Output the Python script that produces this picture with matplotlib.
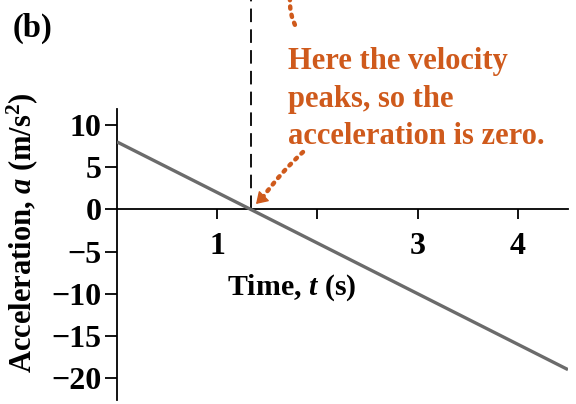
import matplotlib
matplotlib.use("Agg")
import matplotlib.pyplot as plt
import numpy as np
from matplotlib.patches import FancyArrowPatch

plt.rcParams["font.family"] = ["Liberation Serif", "DejaVu Serif"]
plt.rcParams["font.weight"] = "bold"
plt.rcParams["mathtext.fontset"] = "custom"
plt.rcParams["mathtext.rm"] = "Liberation Serif:bold"
plt.rcParams["mathtext.it"] = "Liberation Serif:italic:bold"
plt.rcParams["mathtext.bf"] = "Liberation Serif:bold"

# Acceleration a(t) = a0 + k t (linear)
a0 = 8.0          # m/s^2 at t = 0
k = -6.0          # m/s^3
t_end = 4.5
x_ticks = [1, 2, 3, 4]
x_tick_labels = ["1", "", "3", "4"]
y_ticks = [10, 5, 0, -5, -10, -15, -20]
y_tick_labels = ["10", "5", "0", "\u22125", "\u221210", "\u221215", "\u221220"]
note = "Here the velocity\npeaks, so the\nacceleration is zero."

W, H = 576, 404
fig = plt.figure(figsize=(W / 100, H / 100), dpi=100)

def fx(px):
    return px / W

def fy(py):
    return 1 - py / H

ax = fig.add_axes([fx(117), fy(400), fx(568) - fx(117), fy(109) - fy(400)])
ax.set_xlim(0, t_end)
ax.set_ylim(-22.6, 11.9)

t = np.array([0, t_end])
ax.plot(t, a0 + k * t, color="#6b6b6b", lw=2.4, solid_capstyle="butt", zorder=3)

# time when acceleration crosses zero
t0 = -a0 / k
ax.plot([t0, t0], [0, 25], color="black", lw=1.3, ls=(0, (7.5, 4)),
        clip_on=False, zorder=2)

for s in ["top", "right"]:
    ax.spines[s].set_visible(False)
ax.spines["bottom"].set_position(("data", 0))
ax.spines["left"].set_linewidth(1.3)
ax.spines["bottom"].set_linewidth(1.3)

ax.set_xticks(x_ticks)
ax.set_xticklabels(x_tick_labels)
ax.set_yticks(y_ticks)
ax.set_yticklabels(y_tick_labels)
ax.tick_params(axis="x", direction="out", length=7, width=1.3, pad=9,
               labelsize=23)
ax.tick_params(axis="y", direction="out", length=9, width=1.3, pad=2,
               labelsize=23)
for lab in ax.get_xticklabels() + ax.get_yticklabels():
    lab.set_fontweight("bold")

fig.text(fx(22), fy(233), r"Acceleration, $a$ (m/s$^{2}$)", rotation=90,
         ha="center", va="center", fontsize=22, fontweight="bold")
fig.text(fx(292), fy(288), r"Time, $t$ (s)", ha="center", va="center",
         fontsize=21.5, fontweight="bold")
fig.text(fx(13), fy(28), "(b)", ha="left", va="center", fontsize=23.5,
         fontweight="bold")

orange = "#cf5a1c"
fig.text(fx(288), fy(99), note, ha="left", va="center", fontsize=22,
         fontweight="bold", color=orange, linespacing=1.4)

dots = dict(color=orange, lw=3.2, ls=(0, (0.5, 1.4)), capstyle="round")

# dotted pointer down to the zero crossing
shaft = FancyArrowPatch((fx(303), fy(152)), (fx(263), fy(197)),
                        transform=fig.transFigure, arrowstyle="-",
                        connectionstyle="arc3,rad=0.05",
                        shrinkA=0, shrinkB=0, **dots)
fig.patches.append(shaft)
head = FancyArrowPatch((fx(264), fy(196)), (fx(256), fy(204)),
                       transform=fig.transFigure,
                       arrowstyle="-|>,head_length=7,head_width=4.5",
                       color=orange, lw=1.0, shrinkA=0, shrinkB=0,
                       mutation_scale=1)
fig.patches.append(head)

# dotted pointer continuing from above
top = FancyArrowPatch((fx(290), fy(-2)), (fx(297), fy(29)),
                      transform=fig.transFigure, arrowstyle="-",
                      connectionstyle="arc3,rad=0.15",
                      shrinkA=0, shrinkB=0, **dots)
fig.patches.append(top)

fig.savefig("out.png", dpi=100)
